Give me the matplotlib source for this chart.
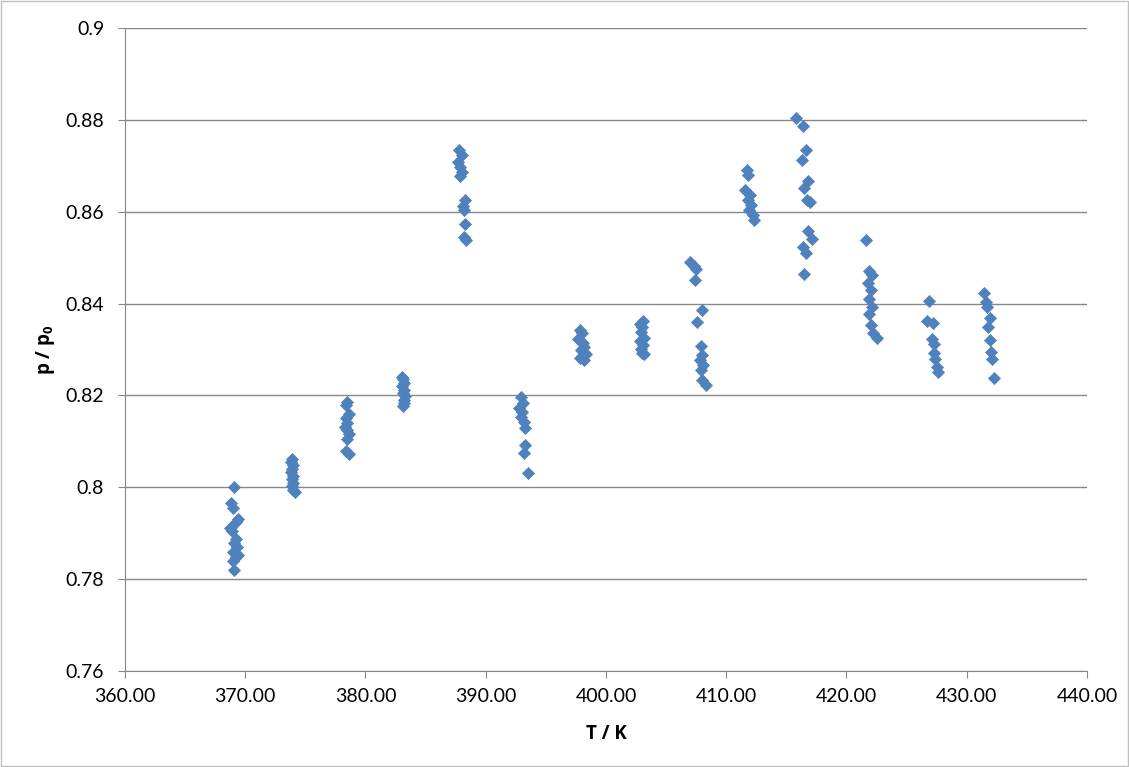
import matplotlib
matplotlib.use("Agg")
import matplotlib.pyplot as plt
from matplotlib.patches import Rectangle

# measured points, grouped by temperature step
T1 = [369.1, 368.8, 369.0, 369.4, 369.2, 368.7, 368.9, 369.2, 369.1, 369.3, 369.0, 369.4, 369.2, 369.0, 369.1]
p1 = [0.8001, 0.7965, 0.7955, 0.7930, 0.7925, 0.7912, 0.7905, 0.7888, 0.7878, 0.7870, 0.7860, 0.7853, 0.7848, 0.7840, 0.7820]
T2 = [373.9, 373.8, 374.0, 373.9, 373.8, 374.0, 373.9, 374.0, 373.9, 374.0, 374.1]
p2 = [0.8062, 0.8055, 0.8048, 0.8040, 0.8033, 0.8025, 0.8018, 0.8010, 0.8003, 0.7995, 0.7990]
T3 = [378.5, 378.4, 378.6, 378.4, 378.5, 378.3, 378.5, 378.6, 378.5, 378.4, 378.6]
p3 = [0.8185, 0.8180, 0.8160, 0.8150, 0.8140, 0.8132, 0.8125, 0.8115, 0.8105, 0.8078, 0.8072]
T4 = [383.0, 383.1, 383.2, 383.0, 383.2, 383.1, 383.3, 383.2, 383.2, 383.1]
p4 = [0.8240, 0.8235, 0.8228, 0.8220, 0.8212, 0.8205, 0.8198, 0.8190, 0.8183, 0.8178]
T5 = [387.8, 388.0, 387.7, 387.9, 388.0, 387.9, 388.3, 388.1, 388.2, 388.3, 388.2, 388.4]
p5 = [0.8734, 0.8724, 0.8708, 0.8697, 0.8686, 0.8678, 0.8626, 0.8612, 0.8604, 0.8573, 0.8545, 0.8538]
T6 = [392.9, 393.1, 392.8, 393.0, 392.9, 393.2, 393.3, 393.3, 393.2, 393.5]
p6 = [0.8197, 0.8184, 0.8173, 0.8164, 0.8153, 0.8142, 0.8129, 0.8092, 0.8075, 0.8031]
T7 = [397.8, 398.0, 397.7, 398.1, 398.2, 397.9, 398.3, 397.8, 398.2]
p7 = [0.8342, 0.8335, 0.8322, 0.8315, 0.8305, 0.8298, 0.8290, 0.8282, 0.8278]
T8 = [403.1, 402.8, 403.0, 402.9, 403.2, 402.8, 403.1, 402.9, 403.0, 403.2]
p8 = [0.8362, 0.8355, 0.8348, 0.8338, 0.8325, 0.8318, 0.8310, 0.8300, 0.8293, 0.8290]
T9 = [407.0, 407.3, 407.5, 407.4, 408.0, 407.6, 407.9, 408.0, 407.8, 408.1, 407.9, 408.0, 408.3]
p9 = [0.8490, 0.8482, 0.8475, 0.8451, 0.8386, 0.8360, 0.8308, 0.8288, 0.8277, 0.8266, 0.8255, 0.8234, 0.8223]
T10 = [411.7, 411.8, 411.6, 412.0, 411.8, 412.1, 411.9, 412.2, 412.3]
p10 = [0.8691, 0.8680, 0.8647, 0.8636, 0.8625, 0.8615, 0.8604, 0.8593, 0.8582]
T11 = [415.8, 416.4, 416.6, 416.3, 416.8, 416.5, 416.7, 417.0, 416.8, 417.1, 416.4, 416.6, 416.5]
p11 = [0.8804, 0.8787, 0.8734, 0.8713, 0.8666, 0.8652, 0.8625, 0.8622, 0.8557, 0.8540, 0.8523, 0.8510, 0.8465]
T12 = [421.6, 421.9, 422.1, 421.8, 422.0, 421.9, 422.1, 421.9, 422.0, 422.2, 422.5]
p12 = [0.8538, 0.8470, 0.8462, 0.8445, 0.8430, 0.8410, 0.8393, 0.8378, 0.8353, 0.8336, 0.8325]
T13 = [426.9, 426.7, 427.2, 427.1, 427.3, 427.3, 427.4, 427.5, 427.6]
p13 = [0.8405, 0.8363, 0.8357, 0.8322, 0.8312, 0.8293, 0.8280, 0.8262, 0.8250]
T14 = [431.4, 431.6, 431.7, 431.9, 431.8, 431.9, 432.0, 432.1, 432.3]
p14 = [0.8422, 0.8403, 0.8392, 0.8369, 0.8349, 0.8321, 0.8295, 0.8280, 0.8238]

T = T1 + T2 + T3 + T4 + T5 + T6 + T7 + T8 + T9 + T10 + T11 + T12 + T13 + T14
p = p1 + p2 + p3 + p4 + p5 + p6 + p7 + p8 + p9 + p10 + p11 + p12 + p13 + p14

xticks = [360, 370, 380, 390, 400, 410, 420, 430, 440]
yticks = [0.76, 0.78, 0.8, 0.82, 0.84, 0.86, 0.88, 0.9]

plt.rcParams['font.family'] = ['Lato', 'DejaVu Sans']
plt.rcParams['mathtext.fontset'] = 'custom'
plt.rcParams['mathtext.bf'] = 'Open Sans:bold'

fig = plt.figure(figsize=(11.29, 7.67), dpi=100)
ax = fig.add_axes([0.1107, 0.1252, 0.8521, 0.8383])

ax.scatter(T, p, marker='D', s=38, color='#4F81BD', edgecolors='#4F81BD', linewidths=0.5, zorder=3)

ax.set_xlim(360, 440)
ax.set_ylim(0.76, 0.9)
ax.set_xticks(xticks)
ax.set_xticklabels([f"{v:.2f}" for v in xticks])
ax.set_yticks(yticks)
ax.set_yticklabels([f"{v:g}" for v in yticks])
ax.yaxis.grid(True, color='#878787', linewidth=1)
ax.set_axisbelow(True)

for s in ['top', 'right']:
    ax.spines[s].set_visible(False)
for s in ['left', 'bottom']:
    ax.spines[s].set_color('#878787')
ax.tick_params(axis='both', colors='#878787', labelcolor='black', labelsize=14, length=5, direction='out')
ax.tick_params(axis='x', pad=7)
ax.tick_params(axis='y', pad=10)

ax.set_xlabel('T / K', fontsize=13.5, fontweight='bold', family='Open Sans', labelpad=14)
ax.set_ylabel('p / p$_\\mathbf{0}$', fontsize=13.5, fontweight='bold', family='Open Sans', labelpad=6)

fig.patches.append(Rectangle((0.001, 0.001), 0.998, 0.998, transform=fig.transFigure,
                             fill=False, edgecolor='#bfbfbf', linewidth=1))

fig.savefig('out.png', dpi=100)
